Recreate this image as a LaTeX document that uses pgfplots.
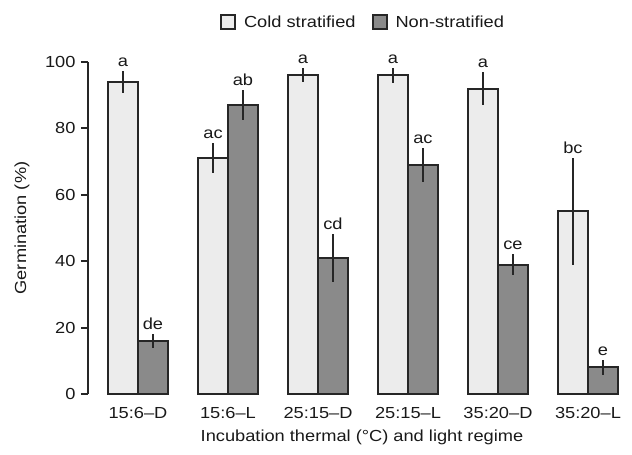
\documentclass[border=0pt]{standalone}
\usepackage{fontspec}
\setmainfont{Liberation Sans}[FakeStretch=1.14]
\usepackage{pgfplots}
\usepackage{pgfplotstable}
\pgfplotsset{compat=1.18}
\definecolor{lightfill}{HTML}{ECECEC}
\definecolor{darkfill}{HTML}{8A8A8A}
\definecolor{outline}{HTML}{262626}
\pgfplotstableread{
x cold ce non ne lc ln
0 94 3.3 16 2.2 a de
1 71 4.5 87 4.6 ac ab
2 96 2.1 41 7.2 a cd
3 96 2.2 69 5.0 a ac
4 92 5.0 39 3.1 a ce
5 55 16 8 2.3 bc e
}\data
\newcommand{\fs}{\fontsize{16bp}{19bp}\selectfont}
\begin{document}
\begin{tikzpicture}
\path[use as bounding box] (-88bp,-61bp) rectangle (544bp,394bp);
\begin{axis}[
  scale only axis,
  width=532bp, height=332bp,
  xmin=-0.5556, xmax=5.356,
  ymin=0, ymax=100,
  clip=false,
  axis y line=left,
  axis x line=bottom,
  x axis line style={draw=none},
  y axis line style={-, draw=outline, line width=1.8bp},
  xtick={0,1,2,3,4,5},
  xticklabels={15:6–D,15:6–L,25:15–D,25:15–L,35:20–D,35:20–L},
  xtick style={draw=none},
  ytick={0,20,40,60,80,100},
  ytick style={draw=outline, line width=1.8bp},
  tick align=outside,
  major tick length=7bp,
  /pgf/number format/assume math mode=true,
  ticklabel style={font=\fs, text=black!90},
  xticklabel style={yshift=-3bp},
  yticklabel style={xshift=-2bp},
  xlabel={Incubation thermal (°C) and light regime},
  ylabel={Germination (\%)},
  xlabel style={font=\fs, text=black!90, at={(axis description cs:0.515,-0.1295)}, anchor=center},
  ylabel style={font=\fs, text=black!90, at={(axis description cs:-0.124,0.5)}, anchor=center, rotate=0},
  legend style={font=\fs, text=black!90, draw=none, fill=none, at={(axis description cs:0.517,1.12)}, anchor=center, legend columns=2,
    /tikz/every odd column/.append style={column sep=6bp},
    /tikz/every even column/.append style={column sep=14bp}},
]
\addplot[ybar, bar width=30bp, bar shift=-15bp, fill=lightfill, draw=outline, line width=2bp,
  legend image code/.code={\draw[fill=lightfill, draw=outline, line width=2bp] (0bp,-7bp) rectangle (14bp,7bp);}]
  table[x=x, y=cold] {\data};
\addlegendentry{Cold stratified}
\addplot[ybar, bar width=30bp, bar shift=15bp, fill=darkfill, draw=outline, line width=2bp,
  legend image code/.code={\draw[fill=darkfill, draw=outline, line width=2bp] (0bp,-7bp) rectangle (14bp,7bp);}]
  table[x=x, y=non] {\data};
\addlegendentry{Non-stratified}
\addplot[draw=none, mark=none, forget plot,
  error bars/.cd, y dir=both, y explicit, error mark=none, error bar style={draw=outline, line width=2bp}]
  table[x expr=\thisrow{x}-0.16667, y=cold, y error=ce] {\data};
\addplot[draw=none, mark=none, forget plot,
  error bars/.cd, y dir=both, y explicit, error mark=none, error bar style={draw=outline, line width=2bp}]
  table[x expr=\thisrow{x}+0.16667, y=non, y error=ne] {\data};
\addplot[draw=none, mark=none, forget plot, nodes near coords, point meta=explicit symbolic,
  every node near coord/.style={font=\fs, text=black!90, anchor=south, inner sep=0pt, yshift=4bp}]
  table[x expr=\thisrow{x}-0.16667, y expr=\thisrow{cold}+\thisrow{ce}, meta=lc] {\data};
\addplot[draw=none, mark=none, forget plot, nodes near coords, point meta=explicit symbolic,
  every node near coord/.style={font=\fs, text=black!90, anchor=south, inner sep=0pt, yshift=4bp}]
  table[x expr=\thisrow{x}+0.16667, y expr=\thisrow{non}+\thisrow{ne}, meta=ln] {\data};
\end{axis}
\end{tikzpicture}
\end{document}
